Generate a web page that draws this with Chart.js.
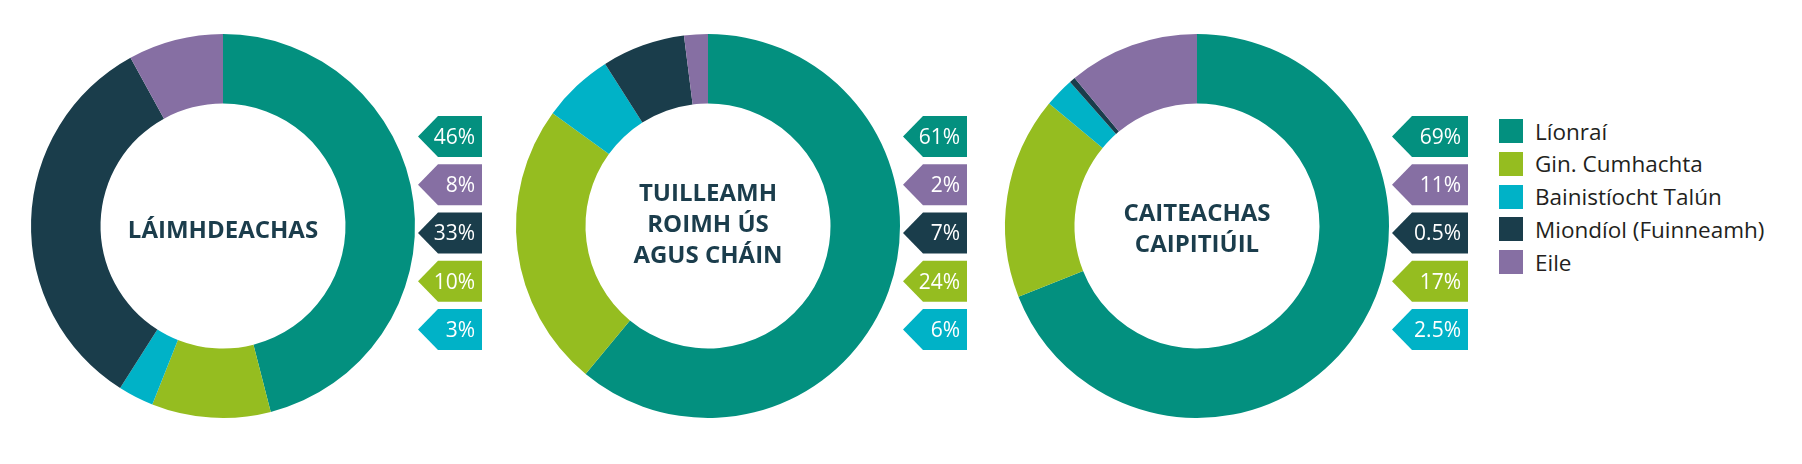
<!DOCTYPE html>
<html>
<head>
<meta charset="utf-8">
<script src="https://cdn.jsdelivr.net/npm/chart.js@4"></script>
<style>
  html, body { margin: 0; padding: 0; background: #fff; }
  #wrap { position: relative; width: 1802px; height: 464px; overflow: hidden; font-family: "Open Sans", sans-serif; }
  .chartBox { position: absolute; top: 0; }
  #legend { position: absolute; left: 1499px; top: 119px; }
  .item { display: flex; align-items: center; height: 24px; margin-bottom: 8.75px; font-size: 22.5px; color: #231f20; white-space: nowrap; }
  .sw { width: 24px; height: 24px; margin-right: 12px; flex: none; }
</style>
</head>
<body>
<div id="wrap">
  <canvas class="chartBox" id="c1" width="500" height="464" style="left:0px"></canvas>
  <canvas class="chartBox" id="c2" width="500" height="464" style="left:485px"></canvas>
  <canvas class="chartBox" id="c3" width="500" height="464" style="left:974px"></canvas>
  <div id="legend"></div>
</div>
<script>
const categories = ["Líonraí", "Gin. Cumhachta", "Bainistíocht Talún", "Miondíol (Fuinneamh)", "Eile"];
const colors = ["#03907f", "#95bd20", "#00b2c7", "#1a3d4b", "#866fa3"];

const laimhdeachas = [46, 10, 3, 33, 8];
const tuilleamh = [61, 24, 6, 7, 2];
const caiteachas = [69, 17, 2.5, 0.5, 11];

const titles = [
  ["LÁIMHDEACHAS"],
  ["TUILLEAMH", "ROIMH ÚS", "AGUS CHÁIN"],
  ["CAITEACHAS", "CAIPITIÚIL"]
];

// order of the percentage tags, top to bottom
const tagOrder = [0, 4, 3, 1, 2];

/* ================= TAGS + TITLE ================= */

const tagPlugin = {
  id: "tags",
  afterDraw(chart, args, opts) {
    const ctx = chart.ctx;
    const arc = chart.getDatasetMeta(0).data[0];
    const cx = arc.x, cy = arc.y;
    const ds = chart.data.datasets[0];

    ctx.save();
    ctx.fillStyle = "#1b3d4c";
    ctx.font = "bold 24px 'Open Sans'";
    ctx.textAlign = "center";
    ctx.textBaseline = "middle";
    const lines = opts.title;
    lines.forEach((l, i) => {
      ctx.fillText(l, cx, cy + opts.titleDy + (i - (lines.length - 1) / 2) * 31);
    });

    tagOrder.forEach((idx, i) => {
      const yc = cy - 89.5 + i * 48.25;
      const tip = cx + 195;
      const right = tip + opts.tagW;
      ctx.beginPath();
      ctx.moveTo(tip, yc);
      ctx.lineTo(tip + 20, yc - 20.5);
      ctx.lineTo(right, yc - 20.5);
      ctx.lineTo(right, yc + 20.5);
      ctx.lineTo(tip + 20, yc + 20.5);
      ctx.closePath();
      ctx.fillStyle = ds.backgroundColor[idx];
      ctx.fill();

      ctx.fillStyle = "#fff";
      ctx.font = "21px 'Open Sans'";
      ctx.textAlign = "right";
      ctx.fillText(ds.data[idx] + "%", right - 7, yc + 1.5);
    });
    ctx.restore();
  }
};

function makeDonut(id, values, title, titleDy, tagW) {
  new Chart(document.getElementById(id), {
    type: "doughnut",
    data: {
      labels: categories,
      datasets: [{
        data: values,
        backgroundColor: colors,
        borderWidth: 0
      }]
    },
    options: {
      responsive: false,
      animation: false,
      cutout: "63.8%",
      layout: { padding: { left: 31, top: 34, right: 85, bottom: 46 } },
      plugins: {
        legend: { display: false },
        tooltip: { enabled: false },
        tags: { title: title, titleDy: titleDy, tagW: tagW }
      }
    },
    plugins: [tagPlugin]
  });
}

makeDonut("c1", laimhdeachas, titles[0], 5, 64);
makeDonut("c2", tuilleamh, titles[1], -1, 64);
makeDonut("c3", caiteachas, titles[2], 4, 76);

/* ================= LEGEND ================= */

const legend = document.getElementById("legend");
categories.forEach((name, i) => {
  legend.innerHTML += `
    <div class="item"><span class="sw" style="background:${colors[i]}"></span>${name}</div>
  `;
});
</script>
</body>
</html>
